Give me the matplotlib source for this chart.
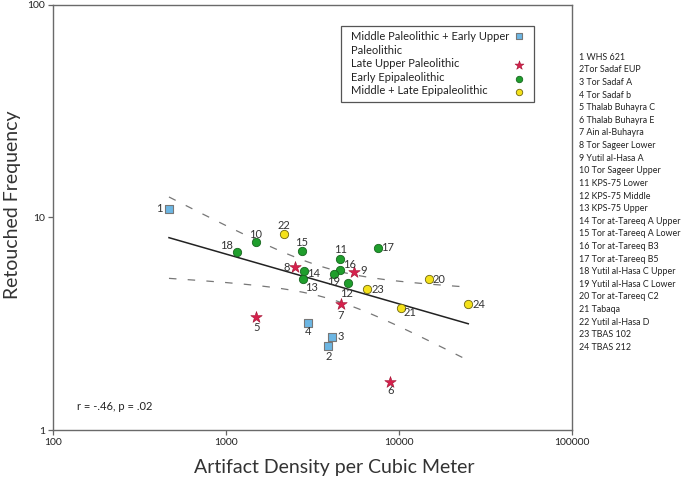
import numpy as np
import matplotlib
matplotlib.use('Agg')
import matplotlib.pyplot as plt
from matplotlib.patches import Rectangle

# ---------------- data ----------------
site_ids = list(range(1, 25))
site_list = ["1 WHS 621", "2Tor Sadaf EUP", "3 Tor Sadaf A", "4 Tor Sadaf b",
             "5 Thalab Buhayra C", "6 Thalab Buhayra E", "7 Ain al-Buhayra",
             "8 Tor Sageer Lower", "9 Yutil al-Hasa A", "10 Tor Sageer Upper",
             "11 KPS-75 Lower", "12 KPS-75 Middle", "13 KPS-75 Upper",
             "14 Tor at-Tareeq A Upper", "15 Tor at-Tareeq A Lower",
             "16 Tor at-Tareeq B3", "17 Tor at-Tareeq B5",
             "18 Yutil al-Hasa C Upper", "19 Yutil al-Hasa C Lower",
             "20 Tor at-Tareeq C2", "21 Tabaqa", "22 Yutil al-Hasa D",
             "23 TBAS 102", "24 TBAS 212"]
density = [470, 3920, 4120, 2980, 1500, 8940, 4640, 2520, 5540, 1490,
           4600, 5110, 2810, 2850, 2750, 4600, 7590, 1160, 4210, 14960,
           10350, 2180, 6560, 25240]
retouched = [11.0, 2.48, 2.74, 3.19, 3.40, 1.69, 3.90, 5.82, 5.51, 7.65,
             6.39, 4.93, 5.11, 5.59, 6.92, 5.65, 7.19, 6.89, 5.43, 5.11,
             3.75, 8.35, 4.60, 3.90]
period = ["MPEUP"] * 4 + ["LUP"] * 5 + ["EE"] * 10 + ["MLE"] * 5
period_names = {"MPEUP": "Middle Paleolithic + Early Upper\nPaleolithic",
                "LUP": "Late Upper Paleolithic",
                "EE": "Early Epipaleolithic",
                "MLE": "Middle + Late Epipaleolithic"}
stats_text = "r = -.46, p = .02"

# ---------------- styles ----------------
styles = {"MPEUP": dict(marker="s", c="#6cb6e3", edgecolors="#777777", s=34, linewidths=0.8),
          "LUP": dict(marker="*", c="#d6204c", edgecolors="#a01030", s=75, linewidths=0.4),
          "EE": dict(marker="o", c="#1f9e2c", edgecolors="#17661f", s=36, linewidths=0.6),
          "MLE": dict(marker="o", c="#f4e11a", edgecolors="#6e6510", s=36, linewidths=0.6)}
# label offsets in pixels (dx right, dy up)
lab_off = {1: (-10, 0), 2: (0, -10), 3: (9, 0), 4: (0, -9), 5: (0, -11), 6: (0, -9),
           7: (0, -11), 8: (-8, 0), 9: (9, 2), 10: (0, 8), 11: (0, 9), 12: (-2, -11),
           13: (8, -8), 14: (9, -2), 15: (0, 9), 16: (9, 6), 17: (10, 0), 18: (-10, 6),
           19: (0, -8), 20: (10, 0), 21: (9, -5), 22: (0, 9), 23: (11, 0), 24: (11, 0)}

W, H = 685, 479
plt.rcParams['font.family'] = ['Lato', 'DejaVu Sans']
fig = plt.figure(figsize=(W / 100, H / 100), dpi=100)
L, R, T, B = 52.7, 571.7, 4.7, 430.0
ax = fig.add_axes([L / W, 1 - B / H, (R - L) / W, (B - T) / H])
ax.set_xscale('log')
ax.set_yscale('log')
ax.set_xlim(100, 100000)
ax.set_ylim(1, 100)

x = np.array(density, float)
y = np.array(retouched, float)
per = np.array(period)
for key in ["MPEUP", "LUP", "EE", "MLE"]:
    m = per == key
    ax.scatter(x[m], y[m], zorder=4, **styles[key])

for i, sid in enumerate(site_ids):
    dx, dy = lab_off[sid]
    ax.annotate(str(sid), (x[i], y[i]), xytext=(dx * 0.72, dy * 0.72),
                textcoords='offset points', ha='center', va='center',
                fontsize=8, color='#333333', zorder=5)

# regression in log-log space with 95% confidence band
lx, ly = np.log10(x), np.log10(y)
b1, b0 = np.polyfit(lx, ly, 1)
n = len(lx)
resid = ly - (b0 + b1 * lx)
s = np.sqrt(np.sum(resid ** 2) / (n - 2))
sxx = np.sum((lx - lx.mean()) ** 2)
xs = np.linspace(lx.min(), lx.max(), 200)
yfit = b0 + b1 * xs
se = s * np.sqrt(1 / n + (xs - lx.mean()) ** 2 / sxx)
tval = 2.074
ax.plot(10 ** xs, 10 ** yfit, color='#222222', lw=1.1, zorder=3)
ax.plot(10 ** xs, 10 ** (yfit + tval * se), color='#777777', lw=0.9, ls=(0, (6, 9)), zorder=3)
ax.plot(10 ** xs, 10 ** (yfit - tval * se), color='#777777', lw=0.9, ls=(0, (6, 9)), zorder=3)

ax.minorticks_off()
ax.set_xticks([100, 1000, 10000, 100000])
ax.set_xticklabels(["100", "1000", "10000", "100000"])
ax.set_yticks([1, 10, 100])
ax.set_yticklabels(["1", "10", "100"])
ax.tick_params(direction='out', length=3.5, width=0.9, colors='#666666', labelsize=7.5,
               labelcolor='#222222', pad=2)
for sp in ax.spines.values():
    sp.set_color('#6a6a6a')
    sp.set_linewidth(1.0)

# axis titles
fig.text(13 / W, 1 - 205 / H, "Retouched Frequency", rotation=90, ha='center', va='center',
         fontsize=14, color='#333333')
fig.text(334 / W, 1 - 467 / H, "Artifact Density per Cubic Meter", ha='center', va='center',
         fontsize=14, color='#333333')
fig.text(77 / W, 1 - 407 / H, stats_text, ha='left', va='center', fontsize=8, color='#222222')

# legend (manual)
fig.patches.append(Rectangle((341 / W, 1 - 102 / H), (534 - 341) / W, (102 - 26) / H,
                             transform=fig.transFigure, fill=False, ec='#555555', lw=0.9))
leg_text_y = {"MPEUP": 37, "LUP": 63.3, "EE": 77.3, "MLE": 91}
leg_mark_y = {"MPEUP": 36, "LUP": 65, "EE": 78.7, "MLE": 92}
for key in ["MPEUP", "LUP", "EE", "MLE"]:
    lines = period_names[key].split("\n")
    for j, ln in enumerate(lines):
        fig.text(350.7 / W, 1 - (leg_text_y[key] + 13.5 * j) / H, ln, ha='left', va='center',
                 fontsize=8, color='#222222')
    st = dict(styles[key])
    st['s'] = st['s'] * 0.6
    ax.scatter([519 / W], [1 - leg_mark_y[key] / H], transform=fig.transFigure,
               clip_on=False, zorder=6, **st)

# site list
for k, name in enumerate(site_list):
    fig.text(579 / W, 1 - (57.3 + 12.61 * k) / H, name, ha='left', va='center',
             fontsize=6.4, color='#222222')

fig.savefig('out.png', dpi=100)
